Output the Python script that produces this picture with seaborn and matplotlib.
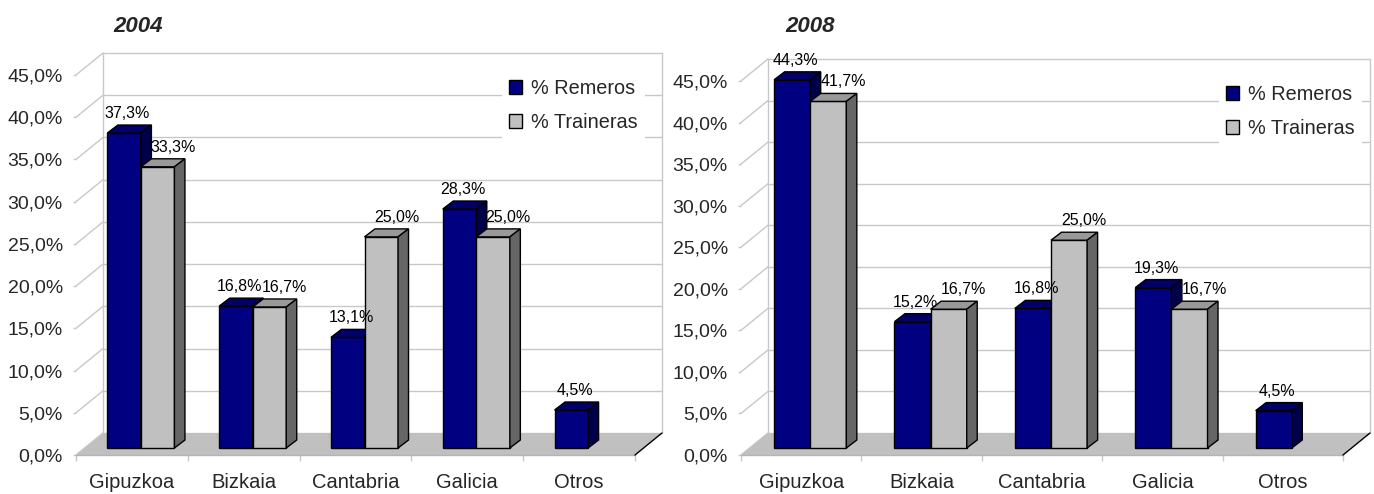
import pandas as pd
import seaborn as sns
import matplotlib.pyplot as plt
from matplotlib.patches import Polygon, Patch
from matplotlib.ticker import FuncFormatter

# datos
categories = ["Gipuzkoa", "Bizkaia", "Cantabria", "Galicia", "Otros"]
series = ["% Remeros", "% Traineras"]
years = ["2004", "2008"]
remeros_2004 = [37.3, 16.8, 13.1, 28.3, 4.5]
traineras_2004 = [33.3, 16.7, 25.0, 25.0, 0.0]
remeros_2008 = [44.3, 15.2, 16.8, 19.3, 4.5]
traineras_2008 = [41.7, 16.7, 25.0, 16.7, 0.0]
y_ticks = [0, 5, 10, 15, 20, 25, 30, 35, 40, 45]

front_col = {"% Remeros": "#000080", "% Traineras": "#c0c0c0"}
top_col = {"% Remeros": "#000066", "% Traineras": "#999999"}
side_col = {"% Remeros": "#00004a", "% Traineras": "#666666"}
grid_col = "#c8c8c8"

W, H = 1374, 494
sns.set_theme(style="white")
plt.rcParams["font.family"] = ["Liberation Sans", "DejaVu Sans"]

fig = plt.figure(figsize=(W / 100, H / 100), dpi=100)


def pct(v):
    return "{:.1f}%".format(v).replace(".", ",")


def panel(box, remeros, traineras, year, title_x, legend_x):
    x0, x1, y0, y1 = box
    ax = fig.add_axes([x0 / W, (H - y0) / H, (x1 - x0) / W, (y0 - y1) / H])
    ax.set_facecolor("none")
    n = len(categories)
    px_x = (x1 - x0) / n
    px_y = (y0 - y1) / y_ticks[-1]
    # profundidad del suelo / pared y de las barras (en pixeles)
    dx, dy = 27 / px_x, 22 / px_y
    ox, oy = 9 / px_x, 7 / px_y
    bdx, bdy = 10.5 / px_x, 8 / px_y
    left, right = -0.5, n - 0.5

    df = pd.DataFrame({
        "categoria": categories * 2,
        "serie": [series[0]] * n + [series[1]] * n,
        "valor": list(remeros) + list(traineras),
    })
    sns.barplot(data=df, x="categoria", y="valor", hue="serie", order=categories,
                hue_order=series, palette=front_col, width=0.6, saturation=1,
                edgecolor="black", linewidth=1, legend=False, ax=ax)

    # pared del fondo y lateral
    for v in y_ticks:
        ax.plot([left + dx, right + dx], [v + dy, v + dy], color=grid_col, lw=1, zorder=0.5, clip_on=False)
        ax.plot([left, left + dx], [v, v + dy], color=grid_col, lw=1, zorder=0.5, clip_on=False)
    for xx in (left + dx, right + dx):
        ax.plot([xx, xx], [dy, y_ticks[-1] + dy], color=grid_col, lw=1, zorder=0.5, clip_on=False)
    ax.add_patch(Polygon([(left, 0), (right, 0), (right + dx, dy), (left + dx, dy)],
                         closed=True, facecolor="#c0c0c0", edgecolor="none", zorder=1, clip_on=False))
    ax.plot([left, right], [0, 0], color="#b4b4b4", lw=1, zorder=1.1, clip_on=False)
    ax.plot([right, right + dx], [0, dy], color="black", lw=1, zorder=1.1, clip_on=False)

    # barras en 3D
    for j, (serie, cont) in enumerate(zip(series, ax.containers)):
        for i, rect in enumerate(cont):
            h = rect.get_height()
            z = 2 + i * 0.1 + j * 0.05
            if h <= 0:
                rect.set_visible(False)
                continue
            bx = rect.get_x() + ox
            w = rect.get_width()
            rect.set_x(bx)
            rect.set_y(oy)
            rect.set_zorder(z)
            rect.set_clip_on(False)
            t = oy + h
            ax.add_patch(Polygon([(bx, t), (bx + w, t), (bx + w + bdx, t + bdy), (bx + bdx, t + bdy)],
                                 closed=True, facecolor=top_col[serie], edgecolor="black", lw=1,
                                 zorder=z + 0.01, clip_on=False))
            ax.add_patch(Polygon([(bx + w, oy), (bx + w + bdx, oy + bdy), (bx + w + bdx, t + bdy), (bx + w, t)],
                                 closed=True, facecolor=side_col[serie], edgecolor="black", lw=1,
                                 zorder=z + 0.01, clip_on=False))
            shift = (-2 if j == 0 else 10) / px_x
            ax.text(bx + (w + bdx) / 2 + shift, t + bdy + 4 / px_y, pct(h), ha="center", va="bottom",
                    fontsize=11.5, color="black", zorder=10)

    ax.set_xlim(left, right)
    ax.set_ylim(0, y_ticks[-1])
    ax.set_yticks(y_ticks)
    ax.yaxis.set_major_formatter(FuncFormatter(lambda v, p: pct(v)))
    ax.set_xticks(range(n), categories)
    ax.set_xticks([left + i for i in range(n + 1)], minor=True)
    ax.tick_params(axis="y", length=2.5, width=1, color=grid_col, pad=7, labelsize=14, left=True)
    ax.tick_params(axis="x", which="major", length=0, pad=13, labelsize=14.5)
    ax.tick_params(axis="x", which="minor", length=4, width=1, color=grid_col, bottom=True)
    ax.set_xlabel("")
    ax.set_ylabel("")
    for s in ax.spines.values():
        s.set_visible(False)

    handles = [Patch(facecolor=front_col[s], edgecolor="black", linewidth=1, label=s) for s in series]
    ax.legend(handles=handles, loc="upper right", bbox_to_anchor=(legend_x / W, 1 - (y1 - 3) / H),
              bbox_transform=fig.transFigure, frameon=True, facecolor="white", edgecolor="none",
              framealpha=1, fancybox=False, fontsize=14.3, handlelength=0.7, handleheight=0.7,
              handletextpad=0.45, borderpad=0.35, labelspacing=0.75, borderaxespad=0)

    fig.text(title_x / W, 1 - 26 / H, year, ha="center", va="center", fontsize=16,
             fontweight="bold", fontstyle="italic")
    return ax


panel((76, 635, 455, 75), remeros_2004, traineras_2004, years[0], 138, 645)
panel((741, 1343, 455, 81), remeros_2008, traineras_2008, years[1], 810, 1362)

fig.savefig("out.png", dpi=100)
